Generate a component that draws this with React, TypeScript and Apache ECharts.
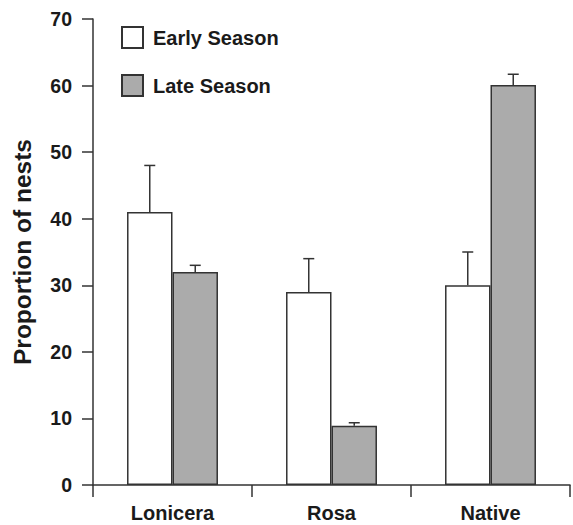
import React, { useEffect, useRef } from "react";
import * as echarts from "echarts";

const categories = ["Lonicera", "Rosa", "Native"];
const earlyValues = [41, 29, 30];
const earlyErrTop = [48, 34, 35];
const lateValues = [32, 8.9, 60.1];
const lateErrTop = [33, 9.35, 61.7];
const seriesNames = ["Early Season", "Late Season"];

const FONT = "'Liberation Sans', Arial, Helvetica, sans-serif";
const INK = "#1a1a1a";
const LINE = "#333333";

export default function App() {
  const ref = useRef<HTMLDivElement>(null);
  useEffect(() => {
    if (!ref.current) return;
    const chart = echarts.init(ref.current, undefined, { renderer: "svg" });
    const barPct = 0.286;
    const errRender = (offsetSign: number) => (params: any, api: any) => {
      const idx = api.value(0);
      const top = api.value(2);
      const base = api.coord([idx, api.value(1)]);
      const topPt = api.coord([idx, top]);
      const band = api.size([1, 0])[0];
      const x = base[0] + offsetSign * band * barPct / 2;
      const cap = 5.5;
      return {
        type: "group",
        children: [
          { type: "line", shape: { x1: x, y1: base[1], x2: x, y2: topPt[1] }, style: { stroke: LINE, lineWidth: 1.5 } },
          { type: "line", shape: { x1: x - cap, y1: topPt[1], x2: x + cap, y2: topPt[1] }, style: { stroke: LINE, lineWidth: 1.5 } },
        ],
      };
    };
    chart.setOption({
      animation: false,
      grid: { left: 93, right: 3, top: 19, bottom: 40, containLabel: false },
      legend: {
        orient: "vertical",
        left: 116,
        top: 21,
        itemWidth: 21,
        itemHeight: 21,
        itemGap: 25,
        icon: "rect",
        data: seriesNames,
        textStyle: { fontFamily: FONT, fontSize: 20, fontWeight: "bold", color: INK, padding: [0, 0, 0, 5] },
      },
      xAxis: {
        type: "category",
        data: categories,
        axisLine: { lineStyle: { color: LINE, width: 1.5 } },
        axisTick: { show: true, interval: 0, length: 12, lineStyle: { color: LINE, width: 1.5 } },
        axisLabel: { fontFamily: FONT, fontSize: 20, fontWeight: "bold", color: INK, margin: 18 },
      },
      yAxis: {
        type: "value",
        min: 0,
        max: 70,
        interval: 10,
        name: "Proportion of nests",
        nameLocation: "middle",
        nameGap: 58,
        nameTextStyle: { fontFamily: FONT, fontSize: 24.5, fontWeight: "bold", color: INK },
        axisLine: { show: true, lineStyle: { color: LINE, width: 1.5 } },
        axisTick: { show: true, length: 11, lineStyle: { color: LINE, width: 1.5 } },
        axisLabel: { fontFamily: FONT, fontSize: 19.5, fontWeight: "bold", color: INK, margin: 21 },
        splitLine: { show: false },
      },
      series: [
        {
          name: seriesNames[0],
          type: "bar",
          data: earlyValues,
          barWidth: "28.6%",
          barGap: "0%",
          itemStyle: { color: "#ffffff", borderColor: LINE, borderWidth: 1.5 },
          z: 2,
        },
        {
          name: seriesNames[1],
          type: "bar",
          data: lateValues,
          barWidth: "28.6%",
          barGap: "0%",
          itemStyle: { color: "#ababab", borderColor: LINE, borderWidth: 1.5 },
          z: 2,
        },
        {
          type: "custom",
          name: "errEarly",
          renderItem: errRender(-1),
          data: earlyValues.map((v, i) => [i, v, earlyErrTop[i]]),
          encode: { x: 0, y: [1, 2] },
          z: 3,
          silent: true,
        },
        {
          type: "custom",
          name: "errLate",
          renderItem: errRender(1),
          data: lateValues.map((v, i) => [i, v, lateErrTop[i]]),
          encode: { x: 0, y: [1, 2] },
          z: 3,
          silent: true,
        },
      ],
    });
    return () => chart.dispose();
  }, []);
  return (
    <div
      ref={ref}
      style={{ position: "fixed", left: 0, top: 0, width: 573, height: 525, background: "#fff" }}
    />
  );
}
